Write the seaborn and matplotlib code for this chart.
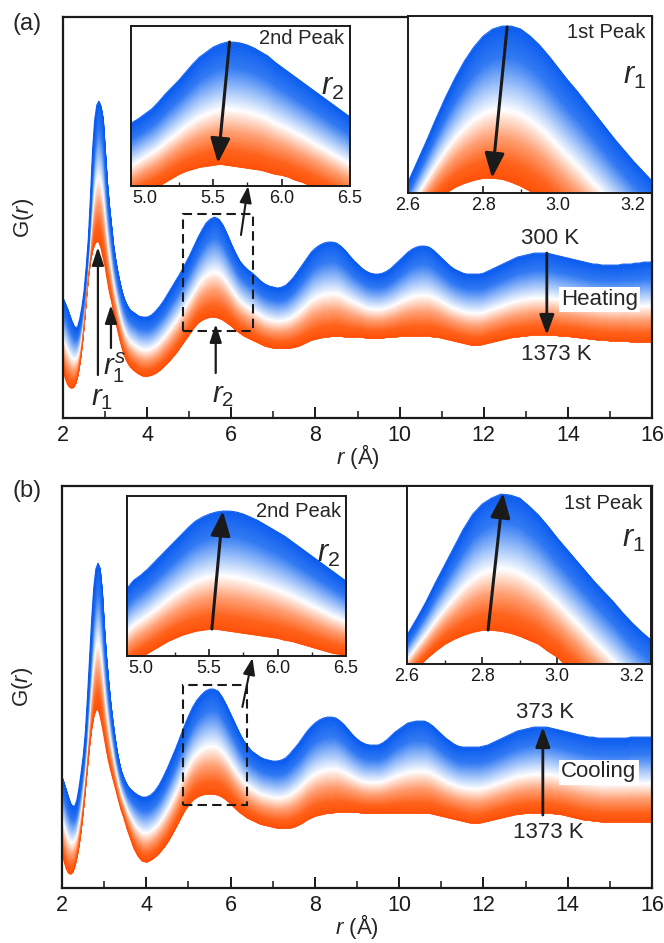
import numpy as np
import matplotlib
matplotlib.use('Agg')
import matplotlib.pyplot as plt
import seaborn as sns
import pandas as pd
from matplotlib.colors import LinearSegmentedColormap
from matplotlib.patches import Rectangle
from matplotlib.ticker import MultipleLocator, FormatStrFormatter

# ---------------- data (arbitrary G(r) units) ----------------
r_fine = np.round(np.arange(2.0, 3.6001, 0.05), 3)
r_coarse = np.round(np.arange(3.7, 16.0001, 0.1), 3)
r_main = np.concatenate([r_fine, r_coarse])

# (a) heating: 300 K (top) and 1373 K (bottom)
top_a = [120,115,110,104,98,93,90,92,100,112,
         128,152,180,222,268,298,313,317,312,300,
         268,236,212,192,172,158,146,136,127,120,
         115,111,108,
         105,102,101,101,103,107,112,118,125,132,
         139,146,154,162,171,180,188,195,199,201,
         199,193,184,174,165,157,152,148,145,141,
         137,134,132,131,130,131,133,137,142,148,
         154,160,166,170,173,175,176,176,175,172,
         168,163,158,154,150,147,145,144,144,145,
         147,150,154,158,162,166,169,171,172,172,
         171,168,164,160,156,152,149,147,145,144,
         144,144,144,145,147,149,151,153,155,157,
         159,161,162,163,164,165,165,165,165,164,
         163,162,161,160,159,158,157,156,155,154,
         154,153,153,153,153,153,154,154,154,155,
         155,156,156,156]
bot_a = [48,40,34,31,30,31,35,43,56,73,
         95,120,142,158,168,174,177,176,170,160,
         151,138,126,117,106,96,87,78,70,63,
         58,54,51,
         47,44,42,42,43,45,48,52,56,61,
         66,72,78,84,90,95,98,100,101,101,
         100,98,95,92,88,85,82,80,78,76,
         74,72,71,70,70,70,70,70,71,72,
         74,76,78,79,80,81,81,82,82,82,
         81,81,81,81,81,80,80,80,80,80,
         81,81,81,82,82,82,82,82,82,82,
         82,81,81,80,79,78,77,76,75,74,
         73,73,73,74,75,76,77,78,79,80,
         81,81,82,82,83,83,83,83,83,83,
         83,82,82,82,81,81,80,80,79,79,
         78,78,78,77,77,77,77,77,76,76,
         76,76,76,76]

# (b) cooling: 373 K (top) and 1373 K (bottom)
top_b = [111,105,98,91,85,82,82,88,100,115,
         132,155,190,228,268,300,319,325,320,298,
         262,232,208,186,168,152,138,127,118,112,
         107,103,100,
         96,93,91,91,93,97,103,111,120,130,
         140,151,162,172,181,188,193,197,199,199,
         197,191,183,174,165,156,148,142,137,134,
         131,129,128,127,127,128,130,134,139,144,
         150,156,161,165,168,170,171,171,170,167,
         163,158,153,149,146,144,143,143,143,145,
         148,152,156,159,162,165,166,167,167,167,
         165,162,158,154,150,147,144,142,141,141,
         141,141,141,142,143,145,147,149,151,153,
         155,157,158,159,160,161,161,161,161,160,
         159,158,157,156,155,154,153,152,151,151,
         150,150,150,150,150,150,150,150,151,151,
         151,151,151,151]
bot_b = [36,26,19,15,14,16,22,31,43,59,
         78,100,122,143,160,172,178,179,172,162,
         150,138,127,118,110,102,94,86,78,72,
         65,58,52,
         40,32,27,26,28,31,35,40,46,53,
         61,69,77,83,88,91,93,94,94,94,
         93,91,88,84,80,76,73,70,68,66,
         64,63,62,61,60,60,60,60,61,63,
         65,68,70,72,73,74,75,75,76,76,
         76,76,76,76,75,75,75,75,75,75,
         75,75,75,75,75,75,75,75,75,75,
         75,74,73,72,71,70,69,68,67,66,
         65,65,65,66,67,68,69,70,71,72,
         73,74,74,75,75,75,75,75,75,75,
         74,74,73,72,71,70,69,68,68,67,
         67,66,66,66,66,66,66,66,66,66,
         66,66,66,66]

# insets: 1st peak
r_in1 = np.round(np.arange(2.6, 3.2501, 0.025), 4)
in1_top_a = [11,32,53,75,96,115,132,146,157,164,167,167,164,157,148,137,125,113,102,90,78,66,54,43,32,22,12]
in1_bot_a = [-40,-28,-17,-8,0,6,10,13,15,15,14,11,7,2,-4,-11,-19,-27,-35,-43,-51,-59,-67,-75,-83,-91,-99]
in1_top_b = [29,45,62,81,99,117,135,150,160,166,170,169,166,158,149,138,126,115,104,93,82,72,62,51,41,32,24]
in1_bot_b = [-14,-4,5,13,20,25,29,32,34,34,33,31,28,24,20,13,7,-2,-10,-19,-28,-37,-46,-55,-64,-73,-82]

# insets: 2nd peak
r_in2 = np.round(np.arange(4.9, 6.5001, 0.05), 3)
in2_top_a = [63,67,72,77,84,92,99,106,114,122,129,134,139,142,144,144,143,141,138,134,130,124,119,114,109,104,99,94,89,84,79,74,69]
in2_bot_a = [-14,-10,-6,-3,0,4,8,12,15,17,19,20,21,22,21,20,19,18,17,16,14,12,11,9,6,4,1,-2,-5,-8,-11,-14,-17]
in2_top_b = [68,76,81,87,94,101,108,115,122,129,135,139,142,144,145,145,144,142,139,136,132,128,124,120,115,110,105,100,95,90,85,80,75]
in2_bot_b = [-10,-5,-1,3,7,11,15,18,21,23,25,26,27,27,26,25,24,23,22,21,20,19,18,16,15,13,11,9,7,5,3,2,0]

main_ticks = [2, 4, 6, 8, 10, 12, 14, 16]

# ---------------- style ----------------
sns.set_theme(style='ticks')
plt.rcParams['font.family'] = ['Liberation Sans', 'DejaVu Sans']
plt.rcParams['mathtext.fontset'] = 'custom'
plt.rcParams['mathtext.rm'] = 'Liberation Sans'
plt.rcParams['mathtext.it'] = 'Liberation Sans:italic'
plt.rcParams['mathtext.bf'] = 'Liberation Sans:bold'

BLUE = '#0A5CF0'
ORANGE = '#FF4E05'
cmap = LinearSegmentedColormap.from_list('band', [
    (0.00, ORANGE), (0.12, '#FF6018'), (0.28, '#FF9E72'), (0.46, '#FFFFFF'),
    (0.62, '#9EC2FA'), (0.80, '#3079F3'), (1.00, BLUE)])


def band(ax, x, top, bot, n=90):
    x = np.asarray(x, float)
    top = np.asarray(top, float)
    bot = np.asarray(bot, float)
    for i in range(n):
        f0, f1 = i / n, (i + 1) / n
        c = cmap((f0 + f1) / 2)
        ax.fill_between(x, bot + (top - bot) * f0, bot + (top - bot) * f1,
                        color=c, lw=0.5, zorder=1)
    df = pd.DataFrame({'r': np.concatenate([x, x]),
                       'G': np.concatenate([top, bot]),
                       'T': ['top'] * len(x) + ['bot'] * len(x)})
    sns.lineplot(data=df, x='r', y='G', hue='T', palette={'top': BLUE, 'bot': ORANGE},
                 ax=ax, lw=0.6, legend=False, zorder=2, sort=False)


def arrow(ax, start, tip, lw=1.8, hl=0.55, hw=0.2, ms=20):
    ax.annotate('', xy=tip, xytext=start, zorder=5,
                arrowprops=dict(arrowstyle=f'-|>,head_length={hl},head_width={hw}',
                                lw=lw, color='k', shrinkA=0, shrinkB=0, mutation_scale=ms))


W, H = 664, 943
fig = plt.figure(figsize=(W / 100, H / 100), dpi=100)


def axes_px(l, t, r, b):
    return fig.add_axes([l / W, 1 - b / H, (r - l) / W, (b - t) / H])


def style_main(ax, ymax):
    ax.set_xlim(2, 16)
    ax.set_ylim(0, ymax)
    ax.set_xticks(main_ticks)
    ax.xaxis.set_minor_locator(MultipleLocator(1))
    ax.set_yticks([])
    ax.tick_params(axis='x', which='major', direction='in', length=8, width=1.4,
                   labelsize=15.5, pad=5, colors='k')
    ax.tick_params(axis='x', which='minor', direction='in', length=5, width=1.2)
    for s in ax.spines.values():
        s.set_linewidth(1.6)
        s.set_color('k')
    ax.set_xlabel(r'$\mathit{r}$ (Å)', fontsize=16)
    ax.xaxis.set_label_coords(0.5, -0.060)
    ax.set_ylabel(r'G($\mathit{r}$)', fontsize=16)
    ax.yaxis.set_label_coords(-0.045, 0.5)


def style_inset(ax, xlim, ymax, major, minor):
    ax.set_xlim(*xlim)
    ax.set_ylim(0, ymax)
    ax.xaxis.set_major_locator(MultipleLocator(major))
    ax.xaxis.set_minor_locator(MultipleLocator(minor))
    ax.xaxis.set_major_formatter(FormatStrFormatter('%.1f'))
    ax.set_yticks([])
    ax.tick_params(axis='x', which='major', direction='in', length=5, width=1.2,
                   labelsize=13, pad=3, colors='k')
    ax.tick_params(axis='x', which='minor', direction='in', length=3, width=1.0)
    ax.set_xlabel('')
    ax.set_ylabel('')
    ax.set_facecolor('white')
    for s in ax.spines.values():
        s.set_linewidth(1.4)
        s.set_color('k')


# ---------------- panel (a) ----------------
axa = axes_px(63, 17, 652, 418)
band(axa, r_main, top_a, bot_a)
style_main(axa, 401)
axa.add_patch(Rectangle((4.85, 87), 1.67, 117, fill=False, ls=(0, (4.5, 2.5)), lw=1.5,
                        ec='k', zorder=4))
arrow(axa, (6.23, 183), (6.40, 232), lw=1.5, hl=0.5, hw=0.18)
arrow(axa, (2.83, 43), (2.83, 171), lw=1.6, hl=0.55, hw=0.18)
arrow(axa, (3.14, 70), (3.14, 113), lw=1.6, hl=0.55, hw=0.18)
arrow(axa, (5.63, 45), (5.63, 94), lw=1.6, hl=0.55, hw=0.18)
axa.text(2.93, 20, r'$\mathit{r}_{\mathit{1}}$', fontsize=21, ha='center', va='center', zorder=6)
axa.text(3.22, 50, r'$\mathit{r}_{\mathit{1}}^{\mathit{s}}$', fontsize=21, ha='center', va='center', zorder=6)
axa.text(5.80, 23, r'$\mathit{r}_{\mathit{2}}$', fontsize=21, ha='center', va='center', zorder=6)
arrow(axa, (13.50, 165), (13.50, 83), lw=2.0, hl=0.6, hw=0.22)
axa.text(13.58, 180, '300 K', fontsize=16, ha='center', va='center')
axa.text(14.76, 119, 'Heating', fontsize=16, ha='center', va='center', zorder=6,
         bbox=dict(facecolor='white', edgecolor='none', pad=1.5))
axa.text(13.72, 63, '1373 K', fontsize=16, ha='center', va='center')

# inset a: 2nd peak
ia2 = axes_px(131, 26, 350, 186)
band(ia2, r_in2, in2_top_a, in2_bot_a)
style_inset(ia2, (4.9, 6.5), 160, 0.5, 0.25)
arrow(ia2, (5.62, 144), (5.535, 23), lw=2.2, hl=0.75, hw=0.3)
ia2.text(0.975, 0.925, '2nd Peak', transform=ia2.transAxes, fontsize=14.5, ha='right', va='center')
ia2.text(0.975, 0.62, r'$\mathit{r}_{\mathit{2}}$', transform=ia2.transAxes, fontsize=22,
         ha='right', va='center')

# inset a: 1st peak
ia1 = axes_px(408, 16, 652, 193)
band(ia1, r_in1, in1_top_a, in1_bot_a)
style_inset(ia1, (2.6, 3.25), 177, 0.2, 0.1)
arrow(ia1, (2.864, 166), (2.824, 15), lw=2.2, hl=0.75, hw=0.3)
ia1.text(0.972, 0.905, '1st Peak', transform=ia1.transAxes, fontsize=14.5, ha='right', va='center')
ia1.text(0.975, 0.66, r'$\mathit{r}_{\mathit{1}}$', transform=ia1.transAxes, fontsize=22,
         ha='right', va='center')

# ---------------- panel (b) ----------------
axb = axes_px(62, 486, 652, 888)
band(axb, r_main, top_b, bot_b)
style_main(axb, 402)
axb.add_patch(Rectangle((4.88, 83), 1.52, 120, fill=False, ls=(0, (4.5, 2.5)), lw=1.5,
                        ec='k', zorder=4))
arrow(axb, (6.28, 181), (6.52, 230), lw=1.5, hl=0.5, hw=0.18)
arrow(axb, (13.41, 73), (13.41, 161), lw=2.0, hl=0.6, hw=0.22)
axb.text(13.46, 176, '373 K', fontsize=16, ha='center', va='center')
axb.text(14.74, 116, 'Cooling', fontsize=16, ha='center', va='center', zorder=6,
         bbox=dict(facecolor='white', edgecolor='none', pad=1.5))
axb.text(13.55, 55, '1373 K', fontsize=16, ha='center', va='center')

ib2 = axes_px(127, 496, 346, 656)
band(ib2, r_in2, in2_top_b, in2_bot_b)
style_inset(ib2, (4.9, 6.5), 160, 0.5, 0.25)
arrow(ib2, (5.52, 27), (5.60, 145), lw=2.2, hl=0.75, hw=0.3)
ib2.text(0.977, 0.906, '2nd Peak', transform=ib2.transAxes, fontsize=14.5, ha='right', va='center')
ib2.text(0.975, 0.64, r'$\mathit{r}_{\mathit{2}}$', transform=ib2.transAxes, fontsize=22,
         ha='right', va='center')

ib1 = axes_px(407, 486, 651, 664)
band(ib1, r_in1, in1_top_b, in1_bot_b)
style_inset(ib1, (2.6, 3.25), 178, 0.2, 0.1)
arrow(ib1, (2.816, 34), (2.856, 171), lw=2.2, hl=0.75, hw=0.3)
ib1.text(0.967, 0.904, '1st Peak', transform=ib1.transAxes, fontsize=14.5, ha='right', va='center')
ib1.text(0.975, 0.70, r'$\mathit{r}_{\mathit{1}}$', transform=ib1.transAxes, fontsize=22,
         ha='right', va='center')

fig.text(27 / W, 1 - 24 / H, '(a)', fontsize=17, ha='center', va='center')
fig.text(27 / W, 1 - 491 / H, '(b)', fontsize=17, ha='center', va='center')

fig.savefig('out.png', dpi=100)
